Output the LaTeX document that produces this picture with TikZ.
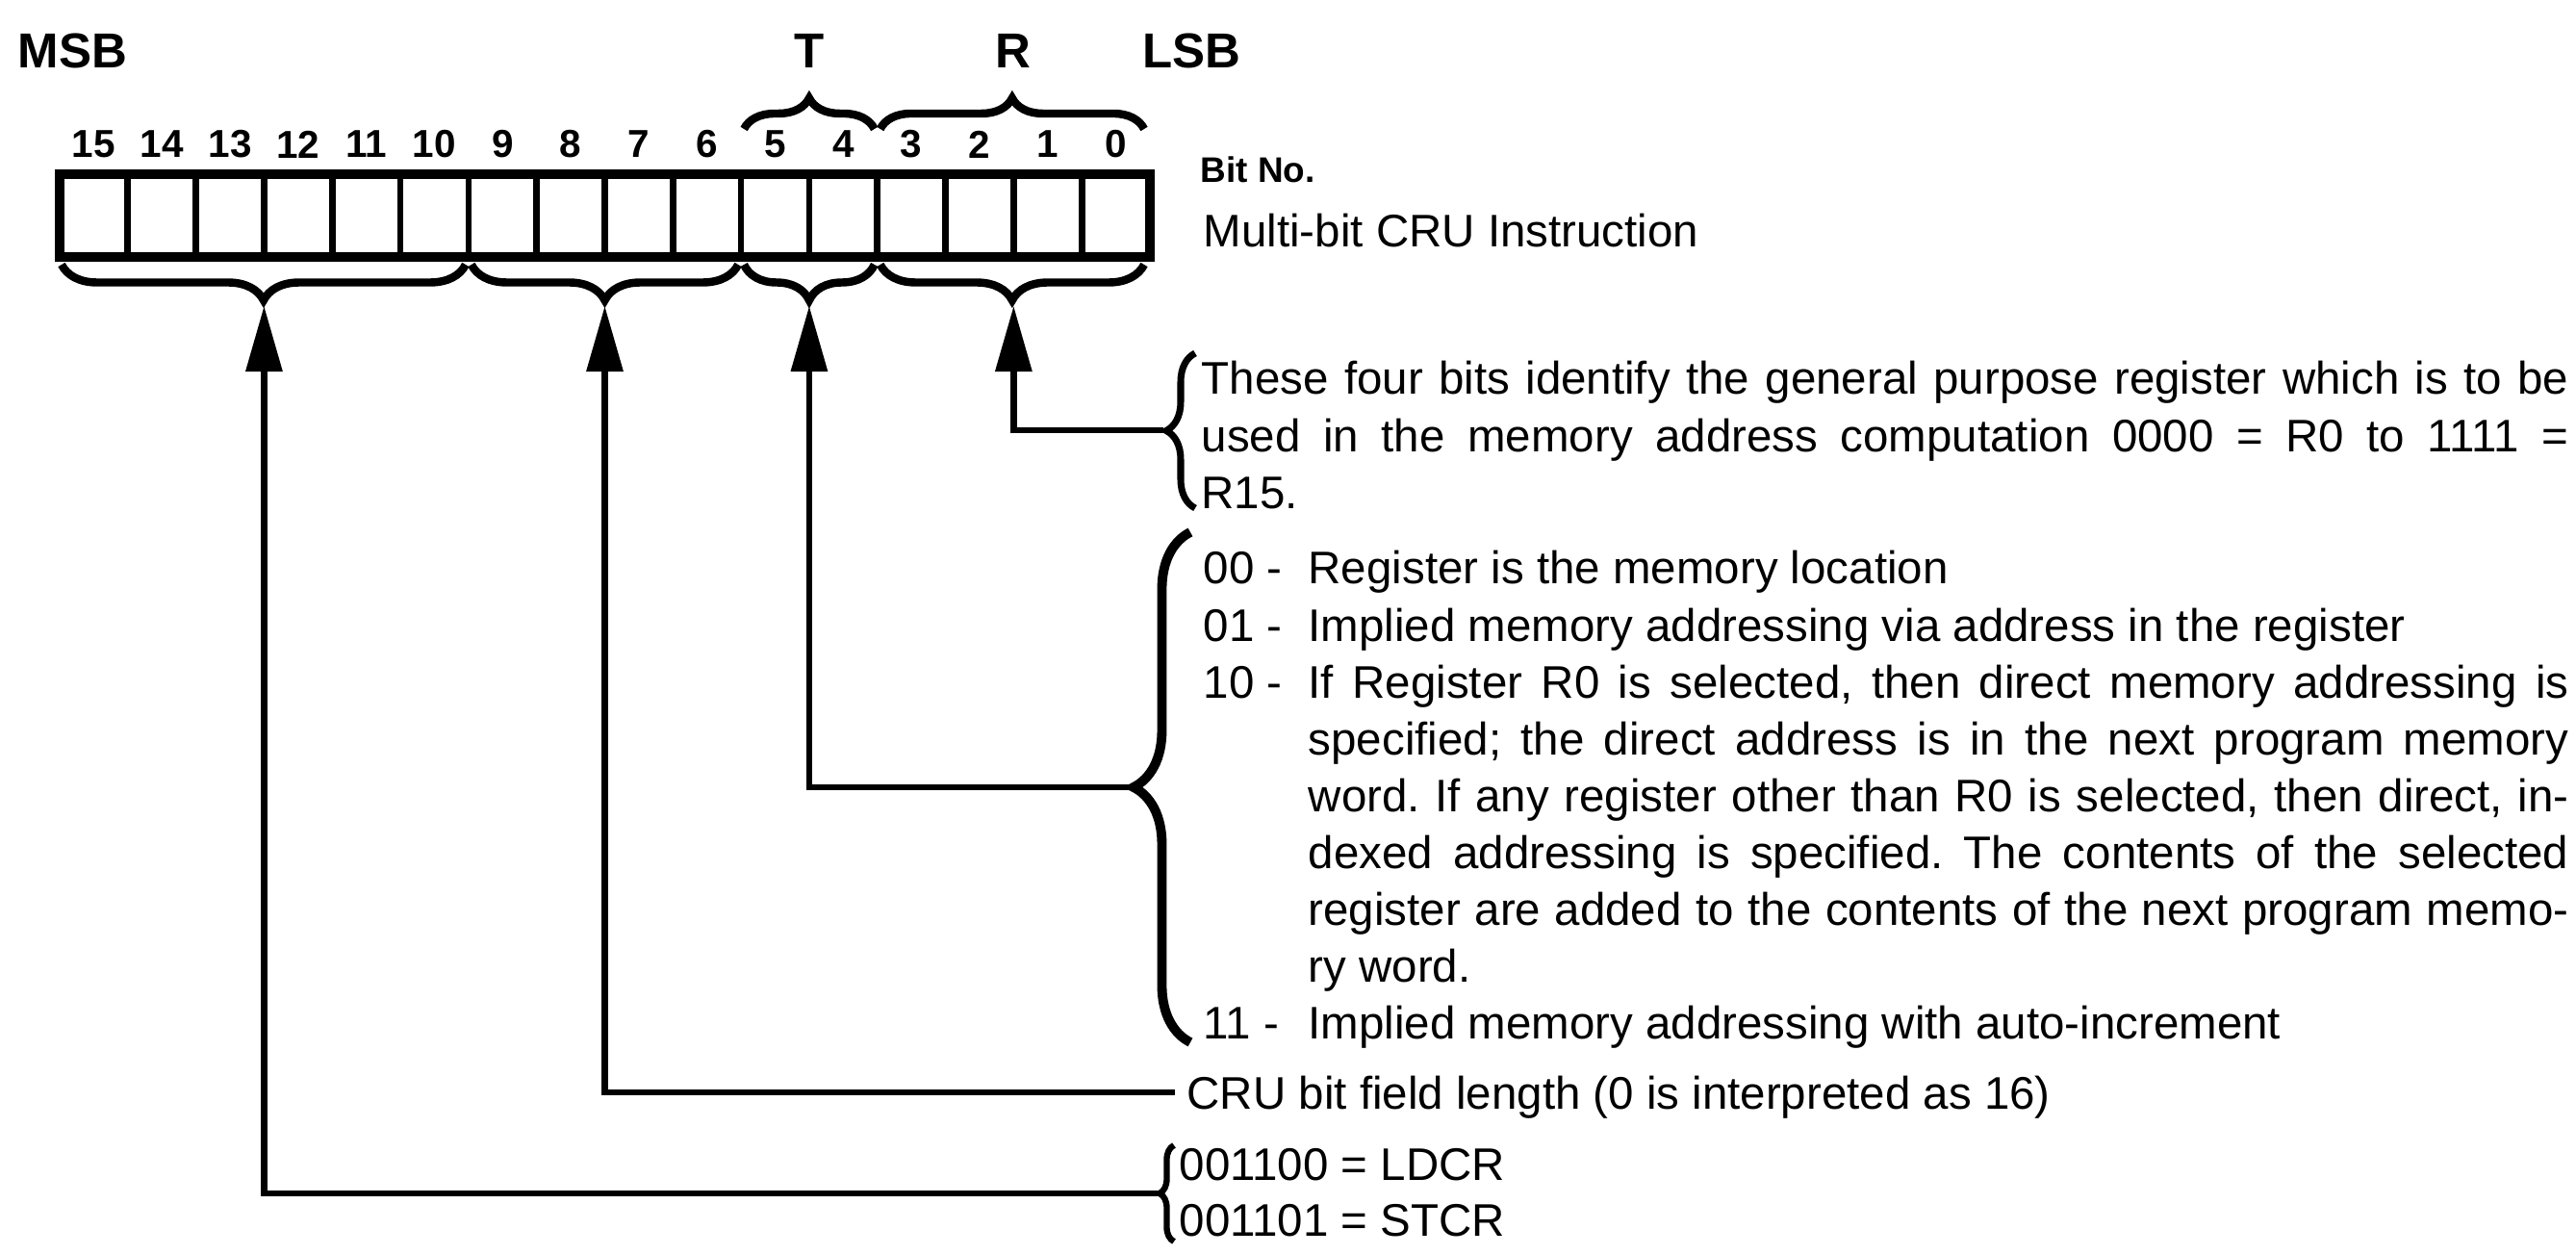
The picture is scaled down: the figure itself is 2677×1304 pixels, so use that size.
\documentclass[tikz,border=0pt]{standalone}
\usepackage{fontspec}
\setmainfont{Liberation Sans}
\usetikzlibrary{arrows.meta,decorations.pathreplacing}

\def\xl{62}
\def\cw{70.8125}

\begin{document}
\frenchspacing
\begin{tikzpicture}[x=0.01cm, y=-0.01cm, every node/.style={inner sep=0pt, font=\fontsize{13.5}{16.8}\selectfont}, >={Triangle[length=6.8mm, width=3.7mm]},
	endlabel/.style={anchor=base, font=\fontsize{14.5}{16}\selectfont\bfseries},
	bitnum/.style={font=\fontsize{11.5}{13}\selectfont\bfseries},
	ptr/.style={->, line width=1.8pt},
	fieldbrace/.style={decorate, decoration={brace, amplitude=#1}, line width=2.4pt},
	textblock/.style={anchor=base west, align=justify, text width=#1}]
	\useasboundingbox (0,0) rectangle (2677,1304);
	\node[endlabel, anchor=base west] (msb) at (18,71) {MSB};
	\node[endlabel] (tlab) at ({\xl+11*\cw},71) {T};
	\node[endlabel] (rlab) at ({\xl+14*\cw},71) {R};
	\node[endlabel, anchor=base west] (lsb) at (1187,71) {LSB};
	\foreach \b in {0,...,15}
		\node[bitnum] (bit\b) at ({\xl+(15.5-\b)*\cw},150) {\b};
	\draw[fieldbrace=0.32cm] ({\xl+10*\cw+3},134) -- ({\xl+12*\cw-3},134);
	\draw[fieldbrace=0.32cm] ({\xl+12*\cw+3},134) -- ({\xl+16*\cw-6},134);
	\foreach \k in {1,...,15}
		\draw[line width=1.9pt] ({\xl+\k*\cw},181) -- ({\xl+\k*\cw},267);
	\draw[line width=3pt] (\xl,181) rectangle (1195,267);
	\node[anchor=base west, font=\fontsize{10.5}{12}\selectfont\bfseries] (bitno) at (1247,190) {Bit No.};
	\node[anchor=base west] (title) at (1250,257) {Multi-bit CRU Instruction};
	\draw[fieldbrace=0.37cm] ({\xl+6*\cw-3},275) -- ({\xl+2},275);
	\draw[fieldbrace=0.37cm] ({\xl+10*\cw-3},275) -- ({\xl+6*\cw+3},275);
	\draw[fieldbrace=0.37cm] ({\xl+12*\cw-3},275) -- ({\xl+10*\cw+3},275);
	\draw[fieldbrace=0.37cm] ({\xl+16*\cw-6},275) -- ({\xl+12*\cw+3},275);
	\coordinate (opc) at ({\xl+3*\cw},318);
	\coordinate (cnt) at ({\xl+8*\cw},318);
	\coordinate (tsel) at ({\xl+11*\cw},318);
	\coordinate (rsel) at ({\xl+14*\cw},318);
	\node[textblock=14.2cm] (rtext) at (1248,410) {These four bits identify the general purpose register which is to be\linebreak used in the memory address computation 0000 = R0 to 1111 =\linebreak R15.};
	\draw[decorate, decoration={brace, amplitude=0.3cm}, line width=2pt] (1242,528) -- (1242,367);
	\coordinate (rb) at (1209,447);
	\node[textblock=14.18cm] (ttext) at (1250,607) {\makebox[1.09cm][l]{00 -}Register is the memory location\\
		\makebox[1.09cm][l]{01 -}Implied memory addressing via address in the register\\
		\makebox[1.09cm][l]{10 -}If Register R0 is selected, then direct memory addressing is\linebreak
		\hspace*{1.09cm}specified; the direct address is in the next program memory\linebreak
		\hspace*{1.09cm}word. If any register other than R0 is selected, then direct, in-\linebreak
		\hspace*{1.09cm}dexed addressing is specified. The contents of the selected\linebreak
		\hspace*{1.09cm}register are added to the contents of the next program memo-\linebreak
		\hspace*{1.09cm}ry word.\\
		\makebox[1.09cm][l]{11 -}Implied memory addressing with auto-increment};
	\draw[decorate, decoration={brace, amplitude=0.59cm}, line width=2.8pt] (1237,1083) -- (1237,553);
	\coordinate (tb) at (1175,818);
	\node[anchor=base west] (ctext) at (1233,1153) {CRU bit field length (0 is interpreted as 16)};
	\coordinate (cb) at (1221,1135);
	\node[anchor=base west] (ldcr) at (1225,1227) {001100 = LDCR};
	\node[anchor=base west] (stcr) at (1225,1285) {001101 = STCR};
	\draw[decorate, decoration={brace, amplitude=0.15cm}, line width=1.8pt] (1220,1290) -- (1220,1190);
	\coordinate (lb) at (1203,1240);
	\draw[ptr] (rb) -| (rsel);
	\draw[ptr] (tb) -| (tsel);
	\draw[ptr] (cb) -| (cnt);
	\draw[ptr] (lb) -| (opc);
\end{tikzpicture}
\end{document}
